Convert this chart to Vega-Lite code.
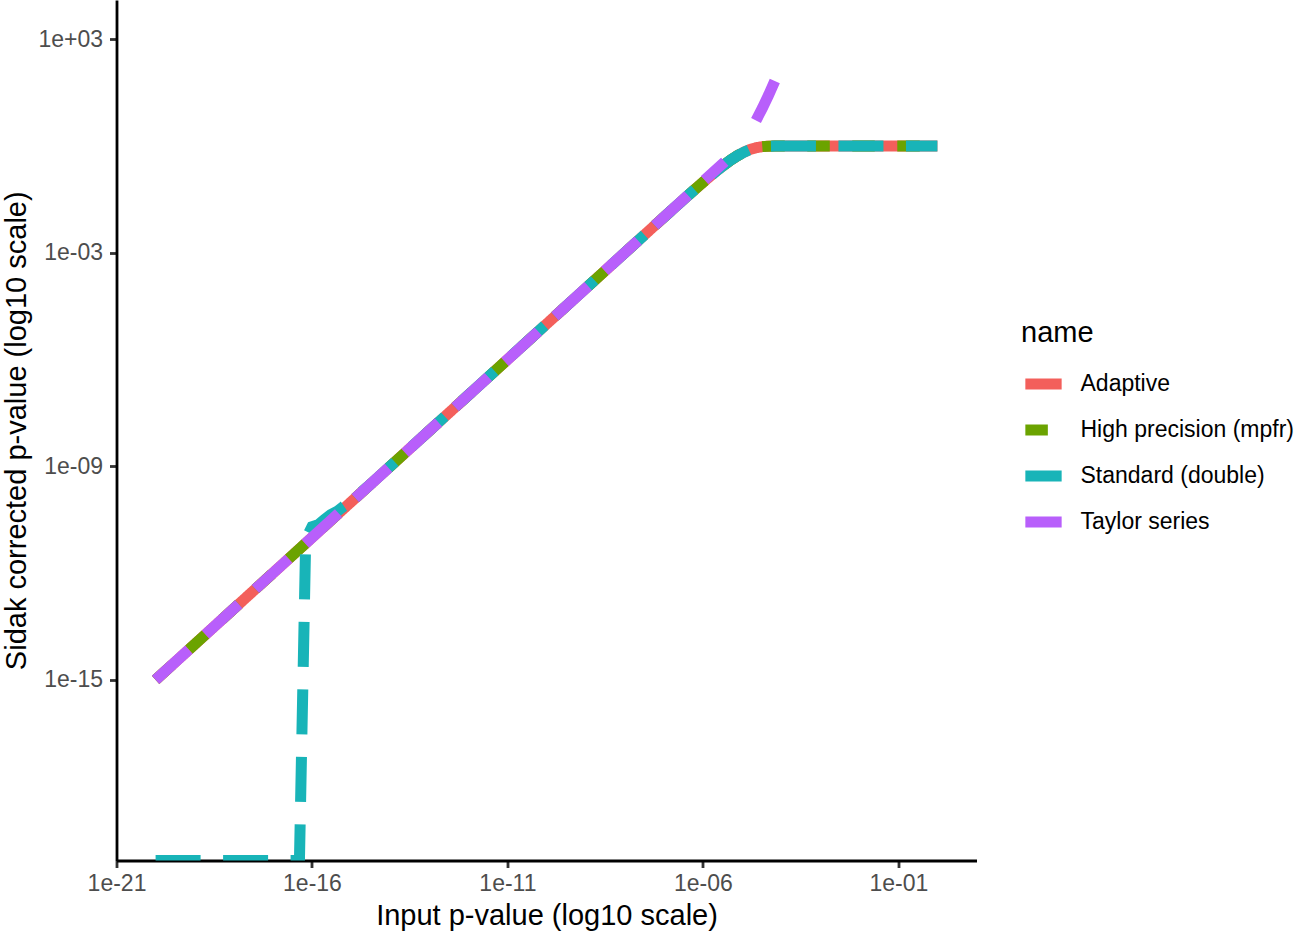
{
  "$schema": "https://vega.github.io/schema/vega-lite/v6.json",
  "width": 860,
  "height": 860.5,
  "autosize": {"type": "none"},
  "padding": {"left": 116.5, "top": 0, "right": 321.5, "bottom": 71.5},
  "background": "white",
  "config": {
    "view": {"stroke": null},
    "font": "Liberation Sans",
    "axis": {
      "grid": false,
      "zindex": 1,
      "domainColor": "black",
      "domainWidth": 2.8,
      "tickColor": "#333333",
      "tickWidth": 2.8,
      "tickSize": 7,
      "labelFont": "Liberation Sans",
      "labelFontSize": 23,
      "labelColor": "#4D4D4D",
      "labelFlush": false,
      "labelOverlap": false,
      "titleFont": "Liberation Sans",
      "titleFontSize": 29,
      "titleFontWeight": "normal",
      "titleColor": "black"
    }
  },
  "data": {
    "values": [
      {"name": "Adaptive", "piece": 1, "p": 1e-20, "value": 1e-15},
      {"name": "Adaptive", "piece": 1, "p": 6.310e-8, "value": 0.006290},
      {"name": "Adaptive", "piece": 1, "p": 9.120e-8, "value": 0.009079},
      {"name": "Adaptive", "piece": 1, "p": 1.318e-7, "value": 0.013096},
      {"name": "Adaptive", "piece": 1, "p": 1.905e-7, "value": 0.018875},
      {"name": "Adaptive", "piece": 1, "p": 2.754e-7, "value": 0.027166},
      {"name": "Adaptive", "piece": 1, "p": 3.981e-7, "value": 0.039029},
      {"name": "Adaptive", "piece": 1, "p": 5.754e-7, "value": 0.055919},
      {"name": "Adaptive", "piece": 1, "p": 8.318e-7, "value": 0.079811},
      {"name": "Adaptive", "piece": 1, "p": 1.202e-6, "value": 0.11328},
      {"name": "Adaptive", "piece": 1, "p": 1.738e-6, "value": 0.15952},
      {"name": "Adaptive", "piece": 1, "p": 2.512e-6, "value": 0.22213},
      {"name": "Adaptive", "piece": 1, "p": 3.631e-6, "value": 0.30444},
      {"name": "Adaptive", "piece": 1, "p": 5.248e-6, "value": 0.40832},
      {"name": "Adaptive", "piece": 1, "p": 7.586e-6, "value": 0.53167},
      {"name": "Adaptive", "piece": 1, "p": 1.096e-5, "value": 0.66595},
      {"name": "Adaptive", "piece": 1, "p": 1.585e-5, "value": 0.79502},
      {"name": "Adaptive", "piece": 1, "p": 2.291e-5, "value": 0.89883},
      {"name": "Adaptive", "piece": 1, "p": 3.311e-5, "value": 0.96353},
      {"name": "Adaptive", "piece": 1, "p": 4.786e-5, "value": 0.99166},
      {"name": "Adaptive", "piece": 1, "p": 6.918e-5, "value": 0.99901},
      {"name": "Adaptive", "piece": 1, "p": 1e-4, "value": 0.99995},
      {"name": "Adaptive", "piece": 1, "p": 1.445e-4, "value": 1},
      {"name": "Adaptive", "piece": 1, "p": 1, "value": 1},

      {"name": "High precision (mpfr)", "piece": 1, "p": 1e-20, "value": 1e-15},
      {"name": "High precision (mpfr)", "piece": 1, "p": 6.310e-8, "value": 0.006290},
      {"name": "High precision (mpfr)", "piece": 1, "p": 9.120e-8, "value": 0.009079},
      {"name": "High precision (mpfr)", "piece": 1, "p": 1.318e-7, "value": 0.013096},
      {"name": "High precision (mpfr)", "piece": 1, "p": 1.905e-7, "value": 0.018875},
      {"name": "High precision (mpfr)", "piece": 1, "p": 2.754e-7, "value": 0.027166},
      {"name": "High precision (mpfr)", "piece": 1, "p": 3.981e-7, "value": 0.039029},
      {"name": "High precision (mpfr)", "piece": 1, "p": 5.754e-7, "value": 0.055919},
      {"name": "High precision (mpfr)", "piece": 1, "p": 8.318e-7, "value": 0.079811},
      {"name": "High precision (mpfr)", "piece": 1, "p": 1.202e-6, "value": 0.11328},
      {"name": "High precision (mpfr)", "piece": 1, "p": 1.738e-6, "value": 0.15952},
      {"name": "High precision (mpfr)", "piece": 1, "p": 2.512e-6, "value": 0.22213},
      {"name": "High precision (mpfr)", "piece": 1, "p": 3.631e-6, "value": 0.30444},
      {"name": "High precision (mpfr)", "piece": 1, "p": 5.248e-6, "value": 0.40832},
      {"name": "High precision (mpfr)", "piece": 1, "p": 7.586e-6, "value": 0.53167},
      {"name": "High precision (mpfr)", "piece": 1, "p": 1.096e-5, "value": 0.66595},
      {"name": "High precision (mpfr)", "piece": 1, "p": 1.585e-5, "value": 0.79502},
      {"name": "High precision (mpfr)", "piece": 1, "p": 2.291e-5, "value": 0.89883},
      {"name": "High precision (mpfr)", "piece": 1, "p": 3.311e-5, "value": 0.96353},
      {"name": "High precision (mpfr)", "piece": 1, "p": 4.786e-5, "value": 0.99166},
      {"name": "High precision (mpfr)", "piece": 1, "p": 6.918e-5, "value": 0.99901},
      {"name": "High precision (mpfr)", "piece": 1, "p": 1e-4, "value": 0.99995},
      {"name": "High precision (mpfr)", "piece": 1, "p": 1.445e-4, "value": 1},
      {"name": "High precision (mpfr)", "piece": 1, "p": 1, "value": 1},

      {"name": "Standard (double)", "piece": 1, "p": 1e-20, "value": 0},
      {"name": "Standard (double)", "piece": 1, "p": 4.786e-17, "value": 0},
      {"name": "Standard (double)", "piece": 1, "p": 6.918e-17, "value": 9e-12},
      {"name": "Standard (double)", "piece": 1, "p": 1e-16, "value": 2.0e-11},
      {"name": "Standard (double)", "piece": 1, "p": 1.445e-16, "value": 2.3e-11},
      {"name": "Standard (double)", "piece": 1, "p": 2.089e-16, "value": 3.2e-11},
      {"name": "Standard (double)", "piece": 1, "p": 3.020e-16, "value": 4.4e-11},
      {"name": "Standard (double)", "piece": 1, "p": 4.365e-16, "value": 5.4e-11},
      {"name": "Standard (double)", "piece": 1, "p": 6.310e-16, "value": 7.4e-11},
      {"name": "Standard (double)", "piece": 1, "p": 9.120e-16, "value": 9.8e-11},
      {"name": "Standard (double)", "piece": 1, "p": 1.318e-15, "value": 1.4e-10},
      {"name": "Standard (double)", "piece": 1, "p": 1.905e-15, "value": 1.95e-10},
      {"name": "Standard (double)", "piece": 1, "p": 2.754e-15, "value": 2.77e-10},
      {"name": "Standard (double)", "piece": 1, "p": 6.310e-8, "value": 0.006290},
      {"name": "Standard (double)", "piece": 1, "p": 9.120e-8, "value": 0.009079},
      {"name": "Standard (double)", "piece": 1, "p": 1.318e-7, "value": 0.013096},
      {"name": "Standard (double)", "piece": 1, "p": 1.905e-7, "value": 0.018875},
      {"name": "Standard (double)", "piece": 1, "p": 2.754e-7, "value": 0.027166},
      {"name": "Standard (double)", "piece": 1, "p": 3.981e-7, "value": 0.039029},
      {"name": "Standard (double)", "piece": 1, "p": 5.754e-7, "value": 0.055919},
      {"name": "Standard (double)", "piece": 1, "p": 8.318e-7, "value": 0.079811},
      {"name": "Standard (double)", "piece": 1, "p": 1.202e-6, "value": 0.11328},
      {"name": "Standard (double)", "piece": 1, "p": 1.738e-6, "value": 0.15952},
      {"name": "Standard (double)", "piece": 1, "p": 2.512e-6, "value": 0.22213},
      {"name": "Standard (double)", "piece": 1, "p": 3.631e-6, "value": 0.30444},
      {"name": "Standard (double)", "piece": 1, "p": 5.248e-6, "value": 0.40832},
      {"name": "Standard (double)", "piece": 1, "p": 7.586e-6, "value": 0.53167},
      {"name": "Standard (double)", "piece": 1, "p": 1.096e-5, "value": 0.66595},
      {"name": "Standard (double)", "piece": 1, "p": 1.585e-5, "value": 0.79502},
      {"name": "Standard (double)", "piece": 1, "p": 2.291e-5, "value": 0.89883},
      {"name": "Standard (double)", "piece": 1, "p": 3.311e-5, "value": 0.96353},
      {"name": "Standard (double)", "piece": 1, "p": 4.786e-5, "value": 0.99166},
      {"name": "Standard (double)", "piece": 1, "p": 6.918e-5, "value": 0.99901},
      {"name": "Standard (double)", "piece": 1, "p": 1e-4, "value": 0.99995},
      {"name": "Standard (double)", "piece": 1, "p": 1.445e-4, "value": 1},
      {"name": "Standard (double)", "piece": 1, "p": 1, "value": 1},

      {"name": "Taylor series", "piece": 1, "p": 1e-20, "value": 1e-15},
      {"name": "Taylor series", "piece": 1, "p": 3.631e-6, "value": 0.3631},
      {"name": "Taylor series", "piece": 2, "p": 2.291e-5, "value": 5.25},
      {"name": "Taylor series", "piece": 2, "p": 3.311e-5, "value": 11.5},
      {"name": "Taylor series", "piece": 2, "p": 4.786e-5, "value": 26.9},
      {"name": "Taylor series", "piece": 2, "p": 6.918e-5, "value": 67.6}
    ]
  },
  "mark": {"type": "line", "strokeWidth": 11, "strokeCap": "butt", "clip": true, "invalid": "show"},
  "encoding": {
    "x": {
      "field": "p",
      "type": "quantitative",
      "scale": {"type": "log", "domain": [1e-21, 10], "nice": false},
      "axis": {
        "title": "Input p-value (log10 scale)",
        "values": [1e-21, 1e-16, 1e-11, 1e-6, 1e-1],
        "labelExpr": "'1e' + (round(log(datum.value)/LN10) < 0 ? '-' : '+') + (abs(round(log(datum.value)/LN10)) < 10 ? '0' : '') + abs(round(log(datum.value)/LN10))",
        "labelBaseline": "alphabetic",
        "labelPadding": 23,
        "titleY": 63.5,
        "titleBaseline": "alphabetic"
      }
    },
    "y": {
      "field": "value",
      "type": "quantitative",
      "scale": {"type": "log", "domain": [8.43e-21, 12706], "nice": false, "clamp": true},
      "axis": {
        "title": "Sidak corrected p-value (log10 scale)",
        "values": [1e3, 1e-3, 1e-9, 1e-15],
        "labelExpr": "'1e' + (round(log(datum.value)/LN10) < 0 ? '-' : '+') + (abs(round(log(datum.value)/LN10)) < 10 ? '0' : '') + abs(round(log(datum.value)/LN10))",
        "labelBaseline": "middle",
        "labelPadding": 7,
        "titleX": -91.5,
        "titleBaseline": "alphabetic"
      }
    },
    "color": {
      "field": "name",
      "type": "nominal",
      "title": "name",
      "scale": {
        "domain": ["Adaptive", "High precision (mpfr)", "Standard (double)", "Taylor series"],
        "range": ["#F35F5B", "#6BA300", "#18B4B8", "#B85FFB"]
      },
      "legend": {
        "orient": "none",
        "legendX": 904.5,
        "legendY": 319,
        "padding": 0,
        "titleFont": "Liberation Sans",
        "titleFontSize": 29,
        "titleFontWeight": "normal",
        "titleColor": "black",
        "titlePadding": 12,
        "labelFont": "Liberation Sans",
        "labelFontSize": 23,
        "labelColor": "black",
        "labelLimit": 0,
        "labelOffset": 13,
        "symbolType": "stroke",
        "symbolSize": 1318,
        "symbolStrokeWidth": 11,
        "symbolOffset": -1.5,
        "rowPadding": 0
      }
    },
    "strokeDash": {
      "field": "name",
      "type": "nominal",
      "title": "name",
      "scale": {
        "domain": ["Adaptive", "High precision (mpfr)", "Standard (double)", "Taylor series"],
        "range": [[1, 0], [22.5, 22.5], [45, 22.5], [45, 22.5]]
      }
    },
    "detail": {"field": "piece", "type": "nominal"}
  }
}
